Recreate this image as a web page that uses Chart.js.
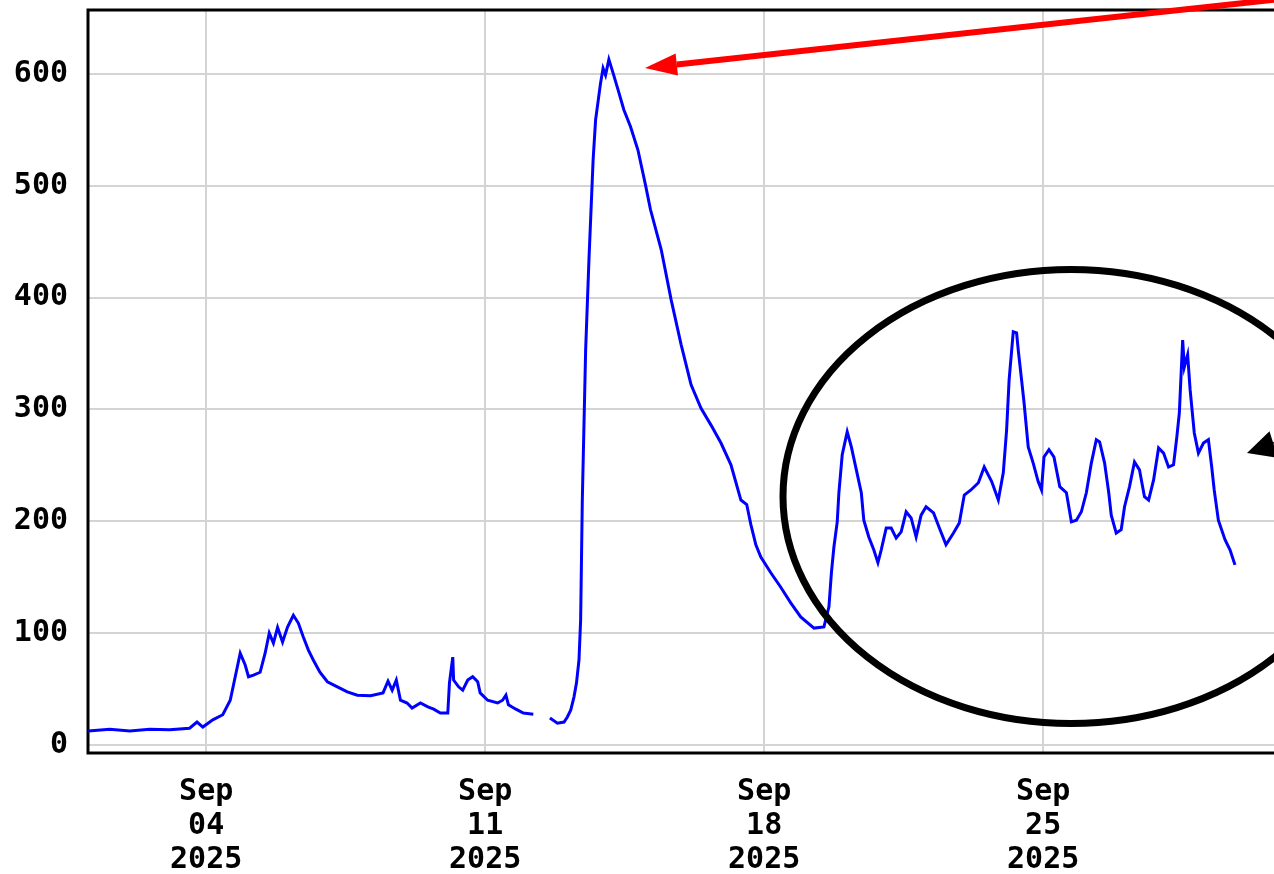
<!DOCTYPE html>
<html>
<head>
<meta charset="utf-8">
<script src="https://cdn.jsdelivr.net/npm/chart.js@4.4.1/dist/chart.umd.min.js"></script>
<style>
  html, body { margin: 0; padding: 0; background: #fff; overflow: hidden; }
  canvas { display: block; }
</style>
</head>
<body>
<canvas id="c" width="1274" height="874"></canvas>
<script>
// Hours since 2025-09-01 00:00
const hours = [
  1, 14, 26, 38, 50, 62, 66.5, 70, 76, 82,
  86.5, 89.5, 92.5, 95.5, 97.5, 100.5, 104.5, 107.5, 110, 112.5,
  115, 118, 121, 124.5, 127.5, 130.5, 133.5, 136.5, 140.5, 145,
  151, 157, 163, 171, 178.5, 181.5, 184, 186.5, 189, 193,
  196, 201, 205.5, 209, 213, 217.5, 218.5, 220.5, 221, 224,
  226.5, 229.5, 232.5, 235.5, 237, 241.5, 247.5, 250.5, 252.5, 254,
  258.5, 263, 269, 273, 279, 283.5, 287.5, 289.5, 291.5, 293.5,
  295, 296.5, 297.5, 298.5, 300.5, 302.5, 305, 306.5, 309.5, 311,
  312.5, 314.5, 317, 320, 323.5, 327.5, 332, 336.5, 339.5, 346,
  352, 358, 364, 370, 376, 382, 388, 394, 397.5, 400,
  403, 406, 412, 418, 424, 430, 438, 444, 447, 448.5,
  450, 452, 453, 455, 458, 460.5, 463.5, 466.5, 468, 471,
  474, 476.5, 478.5, 481.5, 484.5, 487.5, 490.5, 493.5, 496.5, 499.5,
  502.5, 505.5, 510, 513.5, 517.5, 522, 525.5, 528.5, 532.5, 537,
  540.5, 545, 549, 552, 554, 555.5, 558, 560, 561, 563,
  564.5, 567, 570, 573, 575, 576.5, 579.5, 582.5, 586, 590,
  593, 596, 599, 602, 605, 608, 610, 613, 615.5, 617,
  620, 623, 625, 628, 631, 634, 637, 639.5, 642.5, 645.5,
  648.5, 651.5, 654.5, 656.5, 658, 660, 661, 663, 664.5, 667,
  669.5, 672.5, 675.5, 677.5, 679, 681.5, 685.5, 688.5, 691.5
];
const values = [
  12.5, 14, 12.5, 14, 13.5, 15, 20.5, 16, 22.5, 27,
  40, 61, 82, 71.5, 61, 62.5, 65, 82, 100, 91,
  105, 92, 105.5, 116, 109, 96.5, 85, 76, 65, 56.5,
  52, 47.5, 44.5, 44, 46.5, 57, 49, 58, 40, 37.5,
  33, 37.5, 34, 32, 28.5, 28.5, 55.5, 78.5, 58, 52,
  49, 58, 61, 56.5, 46.5, 40, 37.5, 40, 44.5, 36,
  32, 28.5, 27.5, null, 24, 19.5, 20.5, 25, 31, 43,
  55.5, 76, 112, 219, 353, 434, 523, 559, 592, 605,
  599, 613, 601, 586, 568, 553, 532, 501, 479, 443,
  398, 358, 322, 301, 286, 270, 250.5, 219, 215, 197,
  179, 168, 154, 141, 127, 114.5, 104.5, 105.5, 123.5, 154,
  177, 199.5, 225.5, 259.5, 280, 266.5, 246, 225.5, 201, 186,
  174.5, 163, 174.5, 194, 194, 185, 190.5, 208.5, 203, 186,
  205.5, 213, 207.5, 194, 179, 189.5, 198.5, 223.5, 228, 234.5,
  248.5, 235.5, 219, 243.5, 282, 326.5, 369.5, 368.5, 353, 326.5,
  306, 266.5, 252, 235.5, 228, 257.5, 264, 257.5, 231, 225.5,
  199.5, 201, 208.5, 225.5, 252, 273, 271, 252, 225.5, 205.5,
  189.5, 192.5, 213, 231, 253, 246, 222, 219, 237, 265.5,
  261, 248.5, 250.5, 275.5, 297, 362, 338, 349, 317.5, 279,
  261, 270, 273, 248.5, 228, 201, 183.5, 174.5, 161
];
const xTickHours = [72, 240, 408, 576];
const xTickLabels = [["Sep", "04", "2025"], ["Sep", "11", "2025"], ["Sep", "18", "2025"], ["Sep", "25", "2025"]];
const yTicks = [0, 100, 200, 300, 400, 500, 600];
const xMin = 0.85, xMax = 715;
const yMin = -7.2, yMax = 657.2;

const points = hours.map((h, i) => ({ x: h, y: values[i] }));

const FONT = { family: "'DejaVu Sans Mono', monospace", size: 30, weight: 'bold', lineHeight: 1.133 };

const framePlugin = {
  id: 'frame',
  beforeDatasetsDraw(chart) {
    const { ctx, chartArea: a } = chart;
    ctx.save();
    ctx.strokeStyle = '#000';
    ctx.lineWidth = 3;
    ctx.beginPath();
    ctx.moveTo(a.right + 5, a.top);
    ctx.lineTo(a.left, a.top);
    ctx.lineTo(a.left, a.bottom);
    ctx.lineTo(a.right + 5, a.bottom);
    ctx.stroke();
    ctx.restore();
  }
};

function arrow(ctx, x1, y1, x2, y2, color, width, headLen, headHalf) {
  const ang = Math.atan2(y2 - y1, x2 - x1);
  const bx = x2 - headLen * Math.cos(ang), by = y2 - headLen * Math.sin(ang);
  ctx.save();
  ctx.strokeStyle = color; ctx.fillStyle = color; ctx.lineWidth = width;
  ctx.beginPath(); ctx.moveTo(x1, y1); ctx.lineTo(bx, by); ctx.stroke();
  ctx.beginPath();
  ctx.moveTo(x2, y2);
  ctx.lineTo(bx + headHalf * Math.sin(ang), by - headHalf * Math.cos(ang));
  ctx.lineTo(bx - headHalf * Math.sin(ang), by + headHalf * Math.cos(ang));
  ctx.closePath(); ctx.fill();
  ctx.restore();
}

const annotPlugin = {
  id: 'annot',
  afterDraw(chart) {
    const ctx = chart.ctx;
    arrow(ctx, 1290, -2, 645, 68, '#ff0000', 6, 32, 11);
    ctx.save();
    ctx.strokeStyle = '#000';
    ctx.lineWidth = 7;
    ctx.beginPath();
    ctx.ellipse(1071, 496.5, 288, 227, 0, 0, Math.PI * 2);
    ctx.stroke();
    ctx.restore();
    arrow(ctx, 1320, 430, 1247, 453, '#000', 5, 28, 14);
  }
};

new Chart(document.getElementById('c'), {
  type: 'line',
  data: {
    datasets: [{
      data: points,
      borderColor: '#0000ff',
      borderWidth: 3,
      pointRadius: 0,
      tension: 0,
      spanGaps: false,
      fill: false
    }]
  },
  options: {
    responsive: false,
    animation: false,
    layout: { padding: { top: 10, left: 0, right: 0, bottom: 0 } },
    plugins: { legend: { display: false }, tooltip: { enabled: false } },
    scales: {
      x: {
        type: 'linear',
        min: xMin, max: xMax,
        afterBuildTicks(s) { s.ticks = xTickHours.map(v => ({ value: v })); },
        afterFit(s) { s.height = 121; s.paddingLeft = 0; s.paddingRight = 0; },
        ticks: {
          autoSkip: false, maxRotation: 0, minRotation: 0,
          color: '#000', font: FONT, padding: 22,
          callback(v) { const i = xTickHours.indexOf(v); return i >= 0 ? xTickLabels[i] : ''; }
        },
        grid: { color: '#d4d4d4', lineWidth: 2, drawTicks: false },
        border: { display: false }
      },
      y: {
        type: 'linear',
        min: yMin, max: yMax,
        afterBuildTicks(s) { s.ticks = yTicks.map(v => ({ value: v })); },
        afterFit(s) { s.width = 88; s.paddingTop = 0; s.paddingBottom = 0; },
        ticks: { color: '#000', font: FONT, padding: 20, callback: v => String(v) },
        grid: { color: '#d4d4d4', lineWidth: 2, drawTicks: false },
        border: { display: false }
      }
    }
  },
  plugins: [framePlugin, annotPlugin]
});
</script>
</body>
</html>
